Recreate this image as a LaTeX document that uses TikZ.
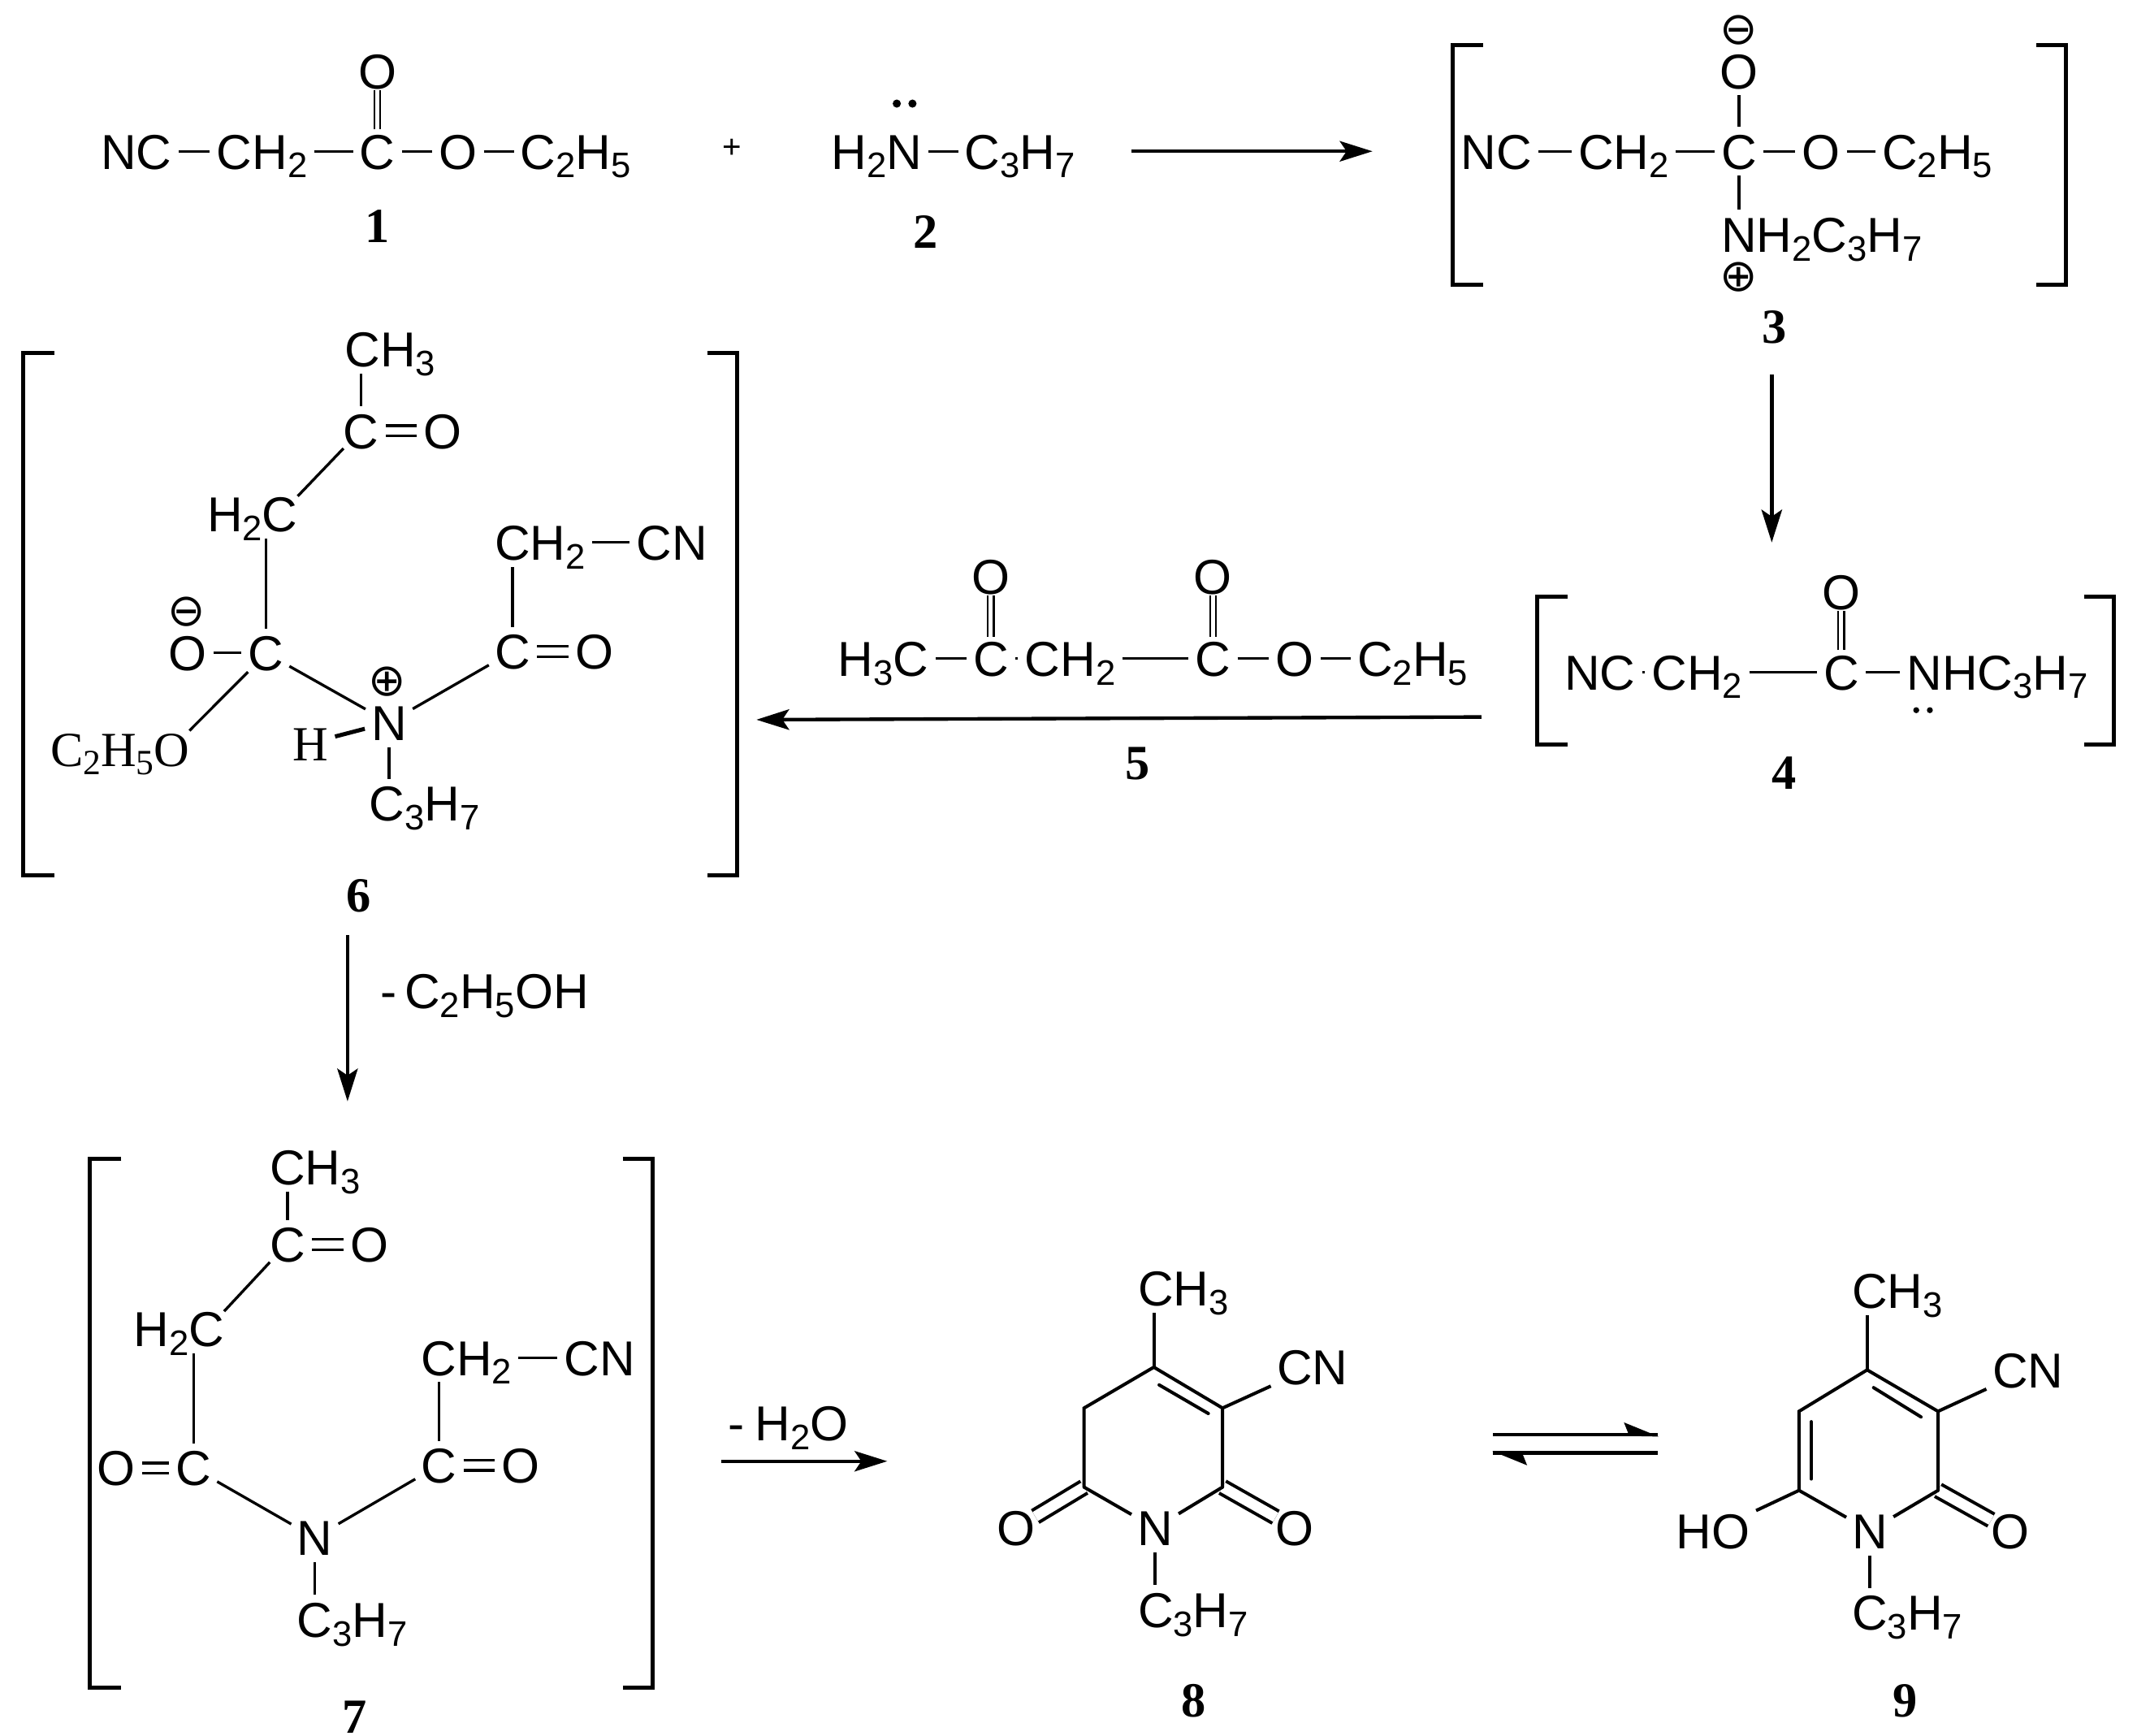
\documentclass[tikz,border=0pt]{standalone}
\usepackage{fontspec}
\setmainfont{Liberation Sans}
\newfontfamily\srf{Liberation Serif}
\newfontfamily\djv{DejaVu Sans}
\usetikzlibrary{arrows.meta}
\newcommand{\su}[1]{\raisebox{-6.5pt}[0pt][0pt]{\fontsize{26}{26}\selectfont #1}}
\tikzset{
  chem/.style={inner sep=0pt,outer sep=0pt,text height=26pt,text depth=0pt,font=\fontsize{36}{40}\selectfont},
  chemsrf/.style={chem,font=\fontsize{36}{40}\selectfont\srf},
  cmpd/.style={inner sep=0pt,font=\fontsize{36}{40}\selectfont\srf\bfseries},
  chg/.style={inner sep=0pt,font=\fontsize{33}{35}\selectfont\djv},
  bd/.style={line width=2pt,shorten <=5pt,shorten >=5pt},
  bc/.style={line width=2.4pt,shorten >=5pt},
  rg/.style={line width=2.4pt,line cap=round},
  dbl/.style={line width=2pt,double,double distance=5.5pt,shorten <=5pt,shorten >=5pt},
  dblv/.style={line width=1.3pt,double,double distance=3pt,shorten <=3pt,shorten >=1pt},
  rdbl/.style={line width=2.4pt,double,double distance=7.6pt},
  brk/.style={line width=3pt,miter limit=10},
  rx/.style={line width=2.2pt,-{Stealth[length=24pt,width=15pt,inset=5pt]}},
}
\begin{document}
\begin{tikzpicture}[x=1pt,y=-1pt]
\useasboundingbox (0,0) rectangle (1568,1273);
\fill[white] (0,0) rectangle (1568,1273);

% ---------- 1
\node[chem,anchor=west] (a1) at (74,111) {NC};
\node[chem,anchor=west] (a2) at (159,111) {CH\su{2}};
\node[chem] (a3) at (277,111) {C};
\node[chem] (a4) at (336,111) {O};
\node[chem,anchor=west] (a5) at (382,111) {C\su{2}H\su{5}};
\node[chem] (a6) at (277,52) {O};
\draw[bd] (a1)--(a2); \draw[bd] (a2)--(a3); \draw[bd] (a3)--(a4); \draw[bd] (a4)--(a5);
\draw[dblv] (a3)--(a6);
\node[cmpd] (l1) at (277,166) {1};
\node[font=\fontsize{24}{26}\selectfont,inner sep=0pt] (plus) at (537,109) {+};

% ---------- 2
\node[chem,anchor=west] (b1) at (610,111) {H\su{2}N};
\node[chem,anchor=west] (b2) at (708,111) {C\su{3}H\su{7}};
\draw[bd] (b1)--(b2);
\fill (658,76) circle (3pt) (669.5,76) circle (3pt);
\node[cmpd] (l2) at (679,170) {2};

\coordinate (r1s) at (830,111); \coordinate (r1e) at (1007,111);
\draw[rx] (r1s)--(r1e);

% ---------- 3
\draw[brk] (1088,33)--(1066,33)--(1066,209)--(1088,209);
\draw[brk] (1494,33)--(1516,33)--(1516,209)--(1494,209);
\node[chem,anchor=west] (c1) at (1072,111) {NC};
\node[chem,anchor=west] (c2) at (1158,111) {CH\su{2}};
\node[chem] (c3) at (1276,111) {C};
\node[chem] (c4) at (1336,111) {O};
\node[chem,anchor=west] (c5) at (1381,111) {C\su{2}H\su{5}};
\node[chem] (c6) at (1276,52) {O};
\node[chem,anchor=west] (c7) at (1263,172) {NH\su{2}C\su{3}H\su{7}};
\node[chg] (c8) at (1276,22) {⊖};
\node[chg] (c9) at (1276,203) {⊕};
\draw[bd] (c1)--(c2); \draw[bd] (c2)--(c3); \draw[bd] (c3)--(c4); \draw[bd] (c4)--(c5);
\draw[bd] (c3)--(c6);
\draw[bd] (c3)--(c7.north -| c3);
\node[cmpd] (l3) at (1302,240) {3};
\coordinate (r2s) at (1300,275); \coordinate (r2e) at (1300,398);
\draw[rx,line width=3pt] (r2s)--(r2e);

% ---------- 4
\draw[brk] (1150,438)--(1128,438)--(1128,546)--(1150,546);
\draw[brk] (1529,438)--(1551,438)--(1551,546)--(1529,546);
\node[chem,anchor=west] (d1) at (1148,493) {NC};
\node[chem,anchor=west] (d2) at (1212,493) {CH\su{2}};
\node[chem] (d3) at (1351,493) {C};
\node[chem,anchor=west] (d4) at (1399,493) {NHC\su{3}H\su{7}};
\node[chem] (d5) at (1351,434) {O};
\draw[bd] (d1)--(d2); \draw[bd] (d2)--(d3); \draw[bd] (d3)--(d4);
\draw[dblv] (d3)--(d5);
\fill (1406,521) circle (2.2pt) (1416,521) circle (2.2pt);
\node[cmpd] (l4) at (1309,567) {4};

% ---------- 5
\node[chem,anchor=west] (e1) at (615,483) {H\su{3}C};
\node[chem] (e2) at (727,483) {C};
\node[chem,anchor=west] (e3) at (752,483) {CH\su{2}};
\node[chem] (e4) at (890,483) {C};
\node[chem] (e5) at (950,483) {O};
\node[chem,anchor=west] (e6) at (996,483) {C\su{2}H\su{5}};
\node[chem] (e7) at (727,423) {O};
\node[chem] (e8) at (890,423) {O};
\draw[bd] (e1)--(e2); \draw[bd] (e2)--(e3); \draw[bd] (e3)--(e4); \draw[bd] (e4)--(e5); \draw[bd] (e5)--(e6);
\draw[dblv] (e2)--(e7); \draw[dblv] (e4)--(e8);
\node[cmpd] (l5) at (835,560) {5};
\coordinate (r3s) at (1087,526); \coordinate (r3e) at (555,528);
\draw[rx,line width=2.6pt] (r3s)--(r3e);

% ---------- 6
\draw[brk] (40,259)--(17,259)--(17,642)--(40,642);
\draw[brk] (519,259)--(541,259)--(541,642)--(519,642);
\node[chem,anchor=west] (f1) at (253,256) {CH\su{3}};
\node[chem] (f2) at (265,316) {C};
\node[chem] (f3) at (325,316) {O};
\node[chem,anchor=west] (f4) at (152,377) {H\su{2}C};
\node[chem] (f5) at (195,479) {C};
\node[chem] (f6) at (137.5,479) {O};
\node[chg] (f7) at (137,449) {⊖};
\node[chemsrf,anchor=west] (f8) at (37,549) {C\su{2}H\su{5}O};
\node[chem] (f9) at (285.5,530) {N};
\node[chg] (f10) at (284,500) {⊕};
\node[chemsrf] (f11) at (228,545) {H};
\node[chem,anchor=west] (f12) at (271,589.5) {C\su{3}H\su{7}};
\node[chem] (f13) at (376,478) {C};
\node[chem] (f14) at (436,478) {O};
\node[chem,anchor=west] (f15) at (363,398) {CH\su{2}};
\node[chem,anchor=west] (f16) at (467,398) {CN};
\draw[bd] (f1.south -| f2)--(f2);
\draw[dbl] (f2)--(f3);
\draw[line width=2pt] (f2.south west)--(f4.north east);
\draw[bd] (f4.south -| f5)--(f5);
\draw[bd] (f6)--(f5);
\draw[line width=2pt] ([shift={(0,1)}]f5.south west)--(f8.north east);
\draw[bd] (f5)--(f9);
\draw[line width=3pt,shorten <=5pt,shorten >=5pt] (f11)--(f9);
\draw[bd] (f9)--(f12.north -| f9);
\draw[bd] (f9)--(f13);
\draw[dbl] (f13)--(f14);
\draw[bd] (f13)--(f15.south -| f13);
\draw[bd] (f15)--(f16);
\node[cmpd] (l6) at (263,657) {6};
\coordinate (r4s) at (255,686); \coordinate (r4e) at (255,808);
\draw[rx,line width=2.6pt] (r4s)--(r4e);
\node[chem,anchor=west] (t1) at (279,727) {-\hspace{6pt}C\su{2}H\su{5}OH};

% ---------- 7
\draw[brk] (89,850)--(66,850)--(66,1238)--(89,1238);
\draw[brk] (457,850)--(479,850)--(479,1238)--(457,1238);
\node[chem,anchor=west] (g1) at (198,856) {CH\su{3}};
\node[chem] (g2) at (211,913) {C};
\node[chem] (g3) at (271,913) {O};
\node[chem,anchor=west] (g4) at (98,975) {H\su{2}C};
\node[chem] (g5) at (142,1077) {C};
\node[chem] (g6) at (85,1077) {O};
\node[chem] (g7) at (231,1128) {N};
\node[chem] (g8) at (322,1075) {C};
\node[chem] (g9) at (382,1075) {O};
\node[chem,anchor=west] (g10) at (309,996) {CH\su{2}};
\node[chem,anchor=west] (g11) at (414,996) {CN};
\node[chem,anchor=west] (g12) at (218,1188) {C\su{3}H\su{7}};
\draw[bd] (g1.south -| g2)--(g2);
\draw[dbl] (g2)--(g3);
\draw[line width=2pt] (g2.south west)--(g4.north east);
\draw[bd] (g4.south -| g5)--(g5);
\draw[dbl] (g5)--(g6);
\draw[bd] (g5)--(g7);
\draw[bd] (g7)--(g8);
\draw[dbl] (g8)--(g9);
\draw[bd] (g8)--(g10.south -| g8);
\draw[bd] (g10)--(g11);
\draw[bd] (g7)--(g12.north -| g7);
\node[cmpd] (l7) at (260,1259.5) {7};
\coordinate (r5s) at (529,1072); \coordinate (r5e) at (651,1072);
\draw[rx] (r5s)--(r5e);
\node[chem,anchor=west] (t2) at (534,1044) {-\hspace{8pt}H\su{2}O};

% ---------- 8
\coordinate (h1) at (846.6,1003); \coordinate (h2) at (897,1033);
\coordinate (h3) at (897,1091); \coordinate (h4) at (795.4,1091);
\coordinate (h5) at (795.4,1033);
\coordinate (h6) at (850.5,1016); \coordinate (h7) at (886.6,1037);
\node[chem,anchor=west] (h8) at (835,945) {CH\su{3}};
\node[chem,anchor=west] (h9) at (937,1003) {CN};
\node[chem] (h10) at (847.5,1121) {N};
\node[chem] (h11) at (745.6,1121) {O};
\node[chem] (h12) at (950,1121) {O};
\node[chem,anchor=west] (h13) at (835,1181) {C\su{3}H\su{7}};
\draw[rdbl] (h4)--(h11); \draw[rdbl] (h3)--(h12);
\draw[rg] (h1)--(h2)--(h3); \draw[rg] (h4)--(h5)--(h1); \draw[rg] (h6)--(h7);
\draw[bc] (h1)--(h8.south -| h1);
\draw[bc] (h2)--(h9);
\draw[bc] (h3)--(h10); \draw[bc] (h4)--(h10);
\draw[bd,line width=2.4pt] (h10)--(h13.north -| h10);
\node[cmpd] (l8) at (876,1248) {8};

% ---------- equilibrium
\coordinate (q1) at (1095.5,1052.5); \coordinate (q2) at (1216.5,1052.5);
\coordinate (q3) at (1216.5,1066); \coordinate (q4) at (1095.5,1066);
\draw[line width=2.8pt] (q1)--(q2); \draw[line width=2.8pt] (q3)--(q4);
\fill[line join=round] (1217,1053.9)--(1191.5,1043.5)--(1195.5,1053.5)--cycle;
\fill[line join=round] (1095,1064.6)--(1120.5,1075)--(1116.5,1065)--cycle;

% ---------- 9
\coordinate (i1) at (1370,1005); \coordinate (i2) at (1422,1035.4);
\coordinate (i3) at (1422,1093.4); \coordinate (i4) at (1320,1093.4);
\coordinate (i5) at (1320,1035.4);
\coordinate (i6) at (1374.7,1018); \coordinate (i7) at (1409.5,1039.5);
\coordinate (i8) at (1329,1043); \coordinate (i9) at (1329,1085);
\node[chem,anchor=west] (i10) at (1359,947) {CH\su{3}};
\node[chem,anchor=west] (i11) at (1462,1005) {CN};
\node[chem] (i12) at (1372,1123) {N};
\node[chem,anchor=west] (i13) at (1230,1123) {HO};
\node[chem] (i14) at (1475,1123) {O};
\node[chem,anchor=west] (i15) at (1359,1183) {C\su{3}H\su{7}};
\draw[rdbl] (i3)--(i14);
\draw[rg] (i1)--(i2)--(i3); \draw[rg] (i4)--(i5)--(i1); \draw[rg] (i6)--(i7); \draw[rg] (i8)--(i9);
\draw[bc] (i1)--(i10.south -| i1);
\draw[bc] (i2)--(i11);
\draw[bc] (i3)--(i12); \draw[bc] (i4)--(i12); \draw[bc] (i4)--(i13);
\draw[bd,line width=2.4pt] (i12)--(i15.north -| i12);
\node[cmpd] (l9) at (1398,1248) {9};
\end{tikzpicture}
\end{document}
